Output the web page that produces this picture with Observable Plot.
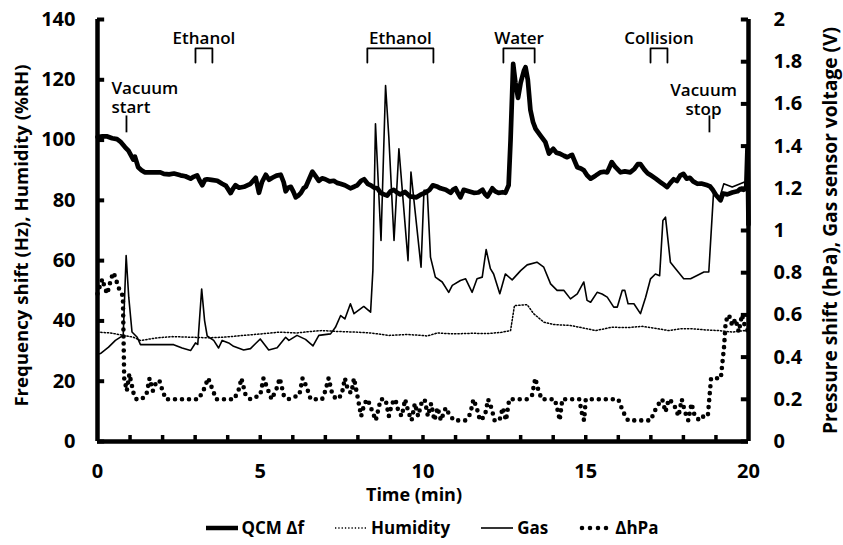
<!DOCTYPE html>
<html><head><meta charset="utf-8">
<script src="https://cdn.jsdelivr.net/npm/d3@7"></script>
<script src="https://cdn.jsdelivr.net/npm/@observablehq/plot@0.6"></script>
<style>
body{margin:0;background:#fff;font-family:"Open Sans",sans-serif;}
#chart svg{display:block}
#legend{display:flex;justify-content:center;align-items:center;gap:30px;height:35px;font-weight:700;font-size:17px;color:#000;padding-left:20px;box-sizing:border-box;width:843px}
.item{display:flex;align-items:center;gap:3px}
</style></head><body>
<div id="chart"></div>
<div id="legend"></div>
<script>
// ---- Data (time in min) ----
const qcm = [[0,101],[0.15,101.2],[0.3,101.2],[0.45,100.6],[0.6,100.3],[0.7,99.5],[0.85,97.6],[0.95,96.5],[1.0,95.5],[1.1,93.5],[1.15,94.5],[1.25,91],[1.35,90],[1.45,89.3],[1.7,89.3],[1.93,89.3],[2.04,88.8],[2.2,88.6],[2.35,88.9],[2.55,88.3],[2.7,88.0],[2.86,87.2],[2.95,87.8],[3.06,88.3],[3.14,86.5],[3.22,85],[3.3,86.8],[3.37,87],[3.5,86.8],[3.68,86.5],[3.83,85.5],[3.95,84.8],[4.09,82.4],[4.17,84],[4.24,85],[4.35,84.2],[4.5,84.5],[4.6,85],[4.7,85.5],[4.86,87.5],[4.96,82.5],[5.05,86],[5.17,88.5],[5.27,86.8],[5.37,87.5],[5.5,88.2],[5.63,88.5],[5.72,86],[5.78,83],[5.86,84.2],[5.94,84.5],[6.02,82.8],[6.09,81],[6.17,81.6],[6.25,82.5],[6.33,84],[6.4,84.5],[6.5,87],[6.6,89.5],[6.7,88],[6.8,86.5],[6.9,87.3],[7.0,87],[7.13,86.3],[7.26,86.5],[7.36,85.8],[7.46,85.5],[7.6,85],[7.77,84],[7.9,84.6],[7.98,85],[8.1,86.5],[8.19,87],[8.3,85.5],[8.4,85],[8.5,84.2],[8.6,84],[8.7,82.5],[8.8,82],[8.9,81.6],[9.0,83],[9.1,83.5],[9.2,82.6],[9.3,82],[9.45,82.8],[9.6,81.3],[9.8,81],[9.95,82],[10.1,82.7],[10.2,83.5],[10.3,85],[10.45,84.5],[10.54,84],[10.7,83.5],[10.85,82.5],[10.93,83.6],[11.0,84],[11.07,82.5],[11.15,81],[11.25,83.5],[11.4,83],[11.56,82.5],[11.7,82.6],[11.83,83.5],[11.91,82],[11.98,81.3],[12.05,82.5],[12.13,84],[12.22,83],[12.32,82.5],[12.45,82.7],[12.53,82.5],[12.63,85],[12.69,100],[12.77,125.3],[12.84,119],[12.92,114],[13.0,119],[13.1,123],[13.15,124.2],[13.22,120],[13.3,110],[13.38,106],[13.46,103.7],[13.61,101.5],[13.76,99.3],[13.87,95.5],[13.93,96.3],[14.0,97.1],[14.1,95.8],[14.2,95.5],[14.33,94.8],[14.43,94.3],[14.52,94.8],[14.58,95.1],[14.66,93],[14.74,91],[14.85,90.6],[14.94,90],[15.04,88.3],[15.15,87.2],[15.3,88.2],[15.45,89.3],[15.56,89.5],[15.66,89.3],[15.73,91],[15.8,92.7],[15.9,91.2],[16.07,89.3],[16.2,89.6],[16.37,89.3],[16.5,90.5],[16.6,92],[16.68,92],[16.8,90.2],[16.9,89],[17.0,88.3],[17.15,87.2],[17.3,86],[17.4,85.2],[17.5,84.4],[17.6,85.8],[17.7,87],[17.8,86.4],[17.9,88.2],[18.0,88.8],[18.1,87.2],[18.2,87.5],[18.3,86.3],[18.43,85.5],[18.55,85.6],[18.74,85],[18.82,84.6],[18.9,83.5],[19.0,81.8],[19.14,80],[19.22,82.3],[19.35,82],[19.5,82.6],[19.66,83],[19.75,83.8],[19.85,83.5],[19.93,84],[19.97,98],[20,72]];

const humidity = [[0,36.3],[0.4,36],[0.8,35.2],[1.1,34.6],[1.32,33.5],[1.6,34],[1.84,34.4],[2.3,34.8],[2.86,34.6],[3.4,34.4],[3.87,34.6],[4.49,35.2],[5.03,35.7],[5.6,36.3],[6.1,36],[6.64,36.6],[6.9,36.8],[7.4,36.5],[7.93,36.3],[8.4,36],[8.95,35.2],[9.5,35.5],[9.97,35.2],[10.13,35.0],[10.44,36.0],[10.95,35.7],[11.5,35.9],[11.97,35.8],[12.4,36.2],[12.69,36.8],[12.81,45.1],[13.2,45.4],[13.4,42.4],[13.71,39.6],[14.02,38.8],[14.53,38.5],[15.04,37.4],[15.3,36.8],[15.8,37.9],[16.3,37.8],[16.73,38.2],[17.1,37.6],[17.55,36.8],[17.9,37.4],[18.27,37.4],[18.7,37],[19.09,36.8],[19.5,36.3],[19.86,36.8],[20,36.5]];

// gas sensor voltage (V), right axis
const gas = [[0,0.414],[0.09,0.417],[0.34,0.447],[0.55,0.479],[0.79,0.503],[0.88,0.881],[0.96,0.684],[1.06,0.519],[1.22,0.494],[1.32,0.459],[1.83,0.459],[2.34,0.459],[2.6,0.443],[2.86,0.431],[3.01,0.467],[3.08,0.46],[3.2,0.723],[3.29,0.573],[3.37,0.5],[3.57,0.479],[3.72,0.443],[3.83,0.479],[4.03,0.467],[4.18,0.451],[4.49,0.434],[4.7,0.44],[4.85,0.463],[5.0,0.486],[5.26,0.434],[5.52,0.444],[5.78,0.494],[5.88,0.479],[6.13,0.503],[6.39,0.484],[6.62,0.453],[6.8,0.503],[7.16,0.51],[7.31,0.541],[7.47,0.597],[7.6,0.581],[7.77,0.653],[7.88,0.606],[8.18,0.64],[8.39,0.613],[8.46,0.81],[8.54,1.506],[8.71,0.953],[8.85,1.687],[8.95,1.443],[9.11,0.953],[9.26,1.387],[9.54,0.857],[9.63,1.277],[9.94,0.826],[10.03,1.19],[10.13,1.19],[10.23,0.874],[10.38,0.779],[10.59,0.756],[10.79,0.707],[10.9,0.74],[11.15,0.763],[11.31,0.771],[11.51,0.707],[11.66,0.771],[11.82,0.779],[11.94,0.91],[12.07,0.819],[12.17,0.794],[12.36,0.7],[12.53,0.794],[12.74,0.766],[13.0,0.81],[13.2,0.837],[13.5,0.85],[13.71,0.826],[13.92,0.747],[14.12,0.716],[14.33,0.716],[14.53,0.676],[14.74,0.7],[14.94,0.756],[15.04,0.669],[15.15,0.66],[15.35,0.707],[15.5,0.699],[15.66,0.684],[15.86,0.637],[15.97,0.637],[16.12,0.716],[16.2,0.716],[16.3,0.653],[16.48,0.653],[16.68,0.606],[16.84,0.684],[16.99,0.771],[17.14,0.794],[17.27,0.786],[17.37,1.047],[17.45,1.063],[17.6,0.85],[17.76,0.819],[18.01,0.771],[18.22,0.771],[18.42,0.787],[18.63,0.803],[18.78,0.803],[18.93,1.19],[19.09,1.143],[19.24,1.221],[19.5,1.206],[19.86,1.229],[20,1.214]];

// pressure shift (hPa), right axis
const pressure = [[0.00,0.70],[0.08,0.74],[0.15,0.77],[0.22,0.73],[0.30,0.70],[0.40,0.76],[0.48,0.80],[0.55,0.78],[0.62,0.74],[0.70,0.71],[0.78,0.69],[0.82,0.30],[0.90,0.24],[0.98,0.32],[1.05,0.27],[1.12,0.22],[1.20,0.20],[1.35,0.20],[1.50,0.22],[1.60,0.30],[1.70,0.24],[1.80,0.28],[1.90,0.29],[2.00,0.24],[2.10,0.20],[2.60,0.20],[3.10,0.20],[3.25,0.24],[3.40,0.30],[3.55,0.24],[3.65,0.20],[4.20,0.20],[4.35,0.25],[4.42,0.30],[4.55,0.22],[4.70,0.20],[5.00,0.22],[5.10,0.30],[5.25,0.24],[5.35,0.20],[5.50,0.25],[5.60,0.30],[5.72,0.22],[5.85,0.20],[6.20,0.22],[6.30,0.30],[6.42,0.26],[6.55,0.20],[6.90,0.20],[7.00,0.24],[7.10,0.30],[7.22,0.22],[7.35,0.20],[7.50,0.22],[7.60,0.30],[7.70,0.24],[7.80,0.23],[7.88,0.30],[7.98,0.22],[8.10,0.12],[8.20,0.18],[8.30,0.20],[8.45,0.14],[8.55,0.10],[8.70,0.20],[8.85,0.20],[8.95,0.12],[9.05,0.18],[9.15,0.20],[9.25,0.14],[9.35,0.12],[9.45,0.20],[9.55,0.14],[9.65,0.10],[9.75,0.18],[9.85,0.12],[9.95,0.18],[10.05,0.20],[10.15,0.12],[10.25,0.18],[10.35,0.10],[10.45,0.16],[10.55,0.10],[10.70,0.16],[10.80,0.13],[10.95,0.10],[11.30,0.10],[11.45,0.13],[11.55,0.20],[11.65,0.16],[11.75,0.10],[11.90,0.12],[12.00,0.20],[12.10,0.16],[12.20,0.10],[12.35,0.10],[12.45,0.16],[12.55,0.10],[12.65,0.20],[13.20,0.20],[13.35,0.22],[13.45,0.30],[13.55,0.24],[13.65,0.20],[14.05,0.20],[14.15,0.14],[14.20,0.10],[14.28,0.20],[14.80,0.20],[14.90,0.12],[14.95,0.10],[15.00,0.20],[16.00,0.20],[16.15,0.14],[16.30,0.10],[17.00,0.10],[17.10,0.14],[17.25,0.18],[17.35,0.20],[17.45,0.14],[17.55,0.20],[17.70,0.18],[17.85,0.12],[17.95,0.20],[18.05,0.14],[18.15,0.10],[18.25,0.18],[18.35,0.12],[18.50,0.10],[18.62,0.12],[18.75,0.12],[18.85,0.30],[19.15,0.30],[19.25,0.45],[19.30,0.57],[19.40,0.60],[19.50,0.55],[19.60,0.58],[19.70,0.52],[19.80,0.60],[19.90,0.54],[20.00,0.52]];

const leftTicks = [0,20,40,60,80,100,120,140];
const rightTicks = [0,0.2,0.4,0.6,0.8,1,1.2,1.4,1.6,1.8,2];
const xLabelTicks = [0,5,10,15,20];
const xMinorTicks = d3.range(1,20);

// events (bracketed periods)
const eventLabels = ["Ethanol","Ethanol","Water","Collision"];
const eventStart = [3.01, 8.29, 12.47, 16.99];
const eventEnd = [3.53, 10.32, 13.43, 17.51];
// vacuum markers
const vacuumLabels = ["Vacuum\nstart","Vacuum\nstop"];
const vacuumTimes = [0.89, 18.8];

const legendLabels = ["QCM Δf","Humidity","Gas","ΔhPa"];

// ---- Build ----
const R = 70; // right-axis unit -> left-axis unit (2 <-> 140)
const toObj = arr => arr.map(([t,v]) => ({t, v}));
const qcmD = toObj(qcm), humD = toObj(humidity), gasD = toObj(gas), prD = toObj(pressure);

const brTop = 130.4, brBot = 125.7, labY = 133.7;
const brackets = [];
eventStart.forEach((s,i) => {
  const e = eventEnd[i];
  brackets.push({i, t:s, v:brBot},{i, t:s, v:brTop},{i, t:e, v:brTop},{i, t:e, v:brBot});
});
const eventText = eventLabels.map((l,i) => ({label:l, t:(eventStart[i]+eventEnd[i])/2}));

const bold = {fontWeight: "bold", fill: "#000"};

const chart = Plot.plot({
  width: 843, height: 510,
  marginLeft: 97, marginRight: 95, marginTop: 19, marginBottom: 69,
  x: {domain: [0, 20]},
  y: {domain: [0, 140]},
  style: {fontFamily: "'Open Sans', sans-serif", background: "#fff", color: "#000"},
  marks: [
    // data lines
    Plot.line(humD, {x:"t", y:"v", stroke:"#000", strokeWidth:1.5, strokeDasharray:"1.3,2"}),
    Plot.line(gasD, {x:"t", y: d => d.v * R, stroke:"#000", strokeWidth:1.6, strokeLinejoin:"round"}),
    Plot.line(prD, {x:"t", y: d => d.v * R, stroke:"#000", strokeWidth:4.6, strokeDasharray:"0,7", strokeLinecap:"round"}),
    Plot.line(qcmD, {x:"t", y:"v", stroke:"#000", strokeWidth:4.7, strokeLinejoin:"round"}),
    // annotations
    Plot.line(brackets, {x:"t", y:"v", z:"i", stroke:"#000", strokeWidth:1.8}),
    Plot.text(eventText, {x:"t", y: () => labY, text:"label", fontSize:17, fontWeight:600, fill:"#000"}),
    Plot.ruleX(vacuumTimes, {y1: 102.4, y2: 108, stroke:"#000", strokeWidth:1.8}),
    Plot.text([{label:vacuumLabels[0], t:vacuumTimes[0]}], {x: d => d.t - 0.46, y: () => 114.1, text:"label", textAnchor:"start", fontSize:17, fontWeight:600, lineHeight:1.12, fill:"#000"}),
    Plot.text([{label:vacuumLabels[1], t:vacuumTimes[1]}], {x: d => d.t - 0.18, y: () => 113.6, text:"label", textAnchor:"middle", fontSize:17, fontWeight:600, lineHeight:1.12, fill:"#000"}),
    // axis tick labels
    Plot.axisY(leftTicks, {anchor:"left", tickSize:0, tickPadding:22, fontSize:20, ...bold, label:null}),
    Plot.axisY(rightTicks.map(v => v * R), {anchor:"right", tickSize:0, tickPadding:25, fontSize:20, ...bold, label:null, tickFormat: d => String(+(d / R).toFixed(1))}),
    Plot.axisX(xLabelTicks, {anchor:"bottom", tickSize:0, tickPadding:22, fontSize:20, ...bold, label:null}),
    // inward ticks
    Plot.ruleY(leftTicks, {x1: 0, x2: 0.22, stroke:"#000", strokeWidth:4}),
    Plot.ruleY(rightTicks.map(v => v * R), {x1: 19.78, x2: 20, stroke:"#000", strokeWidth:4}),
    Plot.ruleX(xMinorTicks, {y1: 0, y2: 2, stroke:"#000", strokeWidth:3.5}),
    // axis lines
    Plot.ruleX([0, 20], {stroke:"#000", strokeWidth:4.5}),
    Plot.ruleY([0], {stroke:"#000", strokeWidth:4.5}),
    // axis titles
    Plot.text(["Frequency shift (Hz), Humidity (%RH)"], {frameAnchor:"left", textAnchor:"middle", rotate:-90, dx:-75, dy:5, fontSize:18.6, ...bold}),
    Plot.text(["Pressure shift (hPa), Gas sensor voltage (V)"], {frameAnchor:"right", textAnchor:"middle", rotate:-90, dx:82, fontSize:19.2, ...bold}),
    Plot.text(["Time (min)"], {frameAnchor:"bottom", dy:59, dx:-9, fontSize:18, ...bold})
  ]
});
document.getElementById("chart").appendChild(chart);

// legend
const swatches = [
  '<line x1="1" y1="6" x2="33" y2="6" stroke="#000" stroke-width="4.5"/>',
  '<line x1="1" y1="6" x2="33" y2="6" stroke="#000" stroke-width="1.5" stroke-dasharray="1.3,2"/>',
  '<line x1="1" y1="6" x2="33" y2="6" stroke="#000" stroke-width="1.6"/>',
  '<line x1="4" y1="6" x2="32" y2="6" stroke="#000" stroke-width="4.6" stroke-dasharray="0,8" stroke-linecap="round"/>'
];
const leg = document.getElementById("legend");
legendLabels.forEach((l,i) => {
  const d = document.createElement("div");
  d.className = "item";
  d.innerHTML = `<svg width="34" height="12">${swatches[i]}</svg><span>${l}</span>`;
  leg.appendChild(d);
});
</script></body></html>
